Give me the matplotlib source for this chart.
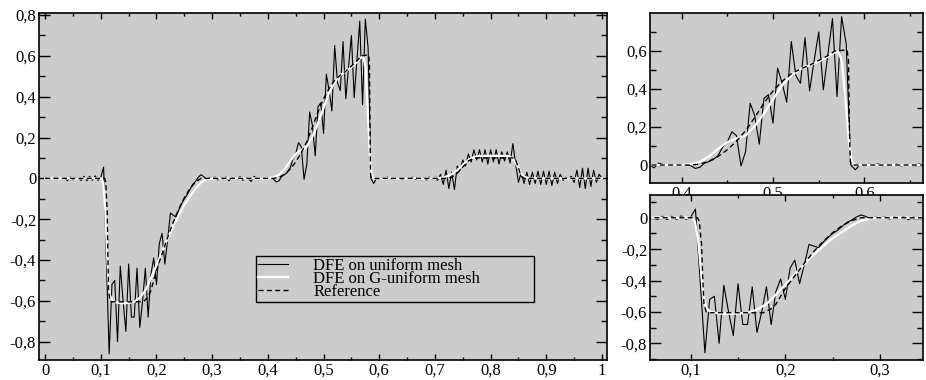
import numpy as np
import matplotlib.pyplot as plt
from matplotlib.ticker import MultipleLocator, FuncFormatter

plt.rcParams['font.family'] = ['Liberation Serif', 'DejaVu Serif']
plt.rcParams['font.size'] = 12

# DFE solution on the uniform mesh (h = 0.005)
x_uniform = np.linspace(0.0, 1.0, 201)
y_uniform = [
    0.0, 0.002, -0.002, 0.003, 0.0, 0.002, -0.002, 0.004, -0.012, 0.006,
    -0.006, 0.005, 0.0, -0.01, 0.01, -0.012, 0.01, -0.01, 0.012, -0.01,
    0.005, 0.055, -0.40, -0.86, -0.52, -0.50, -0.80, -0.43, -0.60, -0.75,
    -0.42, -0.68, -0.68, -0.44, -0.73, -0.60, -0.44, -0.68, -0.47, -0.39,
    -0.52, -0.32, -0.27, -0.42, -0.30, -0.17, -0.18, -0.19, -0.155, -0.125,
    -0.10, -0.08, -0.055, -0.03, -0.015, 0.005, 0.018, 0.008, -0.006, 0.003,
    0.0, 0.006, -0.008, 0.005, -0.003, 0.006, -0.012, 0.004, 0.002, -0.004,
    0.008, -0.01, 0.004, 0.0, -0.015, 0.01, 0.002, 0.0, 0.002, 0.0,
    0.002, 0.0, -0.003, -0.018, -0.012, 0.01, 0.018, 0.03, 0.05, 0.095,
    0.12, 0.175, 0.155, -0.005, 0.07, 0.325, 0.26, 0.11, 0.35, 0.37,
    0.22, 0.51, 0.43, 0.33, 0.65, 0.47, 0.43, 0.67, 0.39, 0.55,
    0.70, 0.395, 0.58, 0.77, 0.36, 0.78, 0.64, 0.0, -0.025, 0.0,
    -0.003, 0.004, 0.0, 0.006, -0.004, 0.002, 0.0, 0.004, -0.005, 0.0,
    0.003, 0.0, 0.006, -0.006, 0.004, 0.0, 0.005, -0.008, 0.006, -0.004,
    0.005, -0.01, 0.02, -0.03, 0.04, -0.05, 0.03, -0.055, 0.06, 0.04,
    0.09, 0.06, 0.12, 0.08, 0.14, 0.09, 0.14, 0.08, 0.14, 0.07,
    0.14, 0.08, 0.14, 0.07, 0.13, 0.085, 0.13, 0.075, 0.17, 0.07,
    -0.02, 0.03, -0.025, 0.03, -0.03, 0.03, -0.025, 0.035, -0.03, 0.035,
    -0.03, 0.035, -0.035, 0.03, -0.025, 0.02, -0.01, 0.005, 0.0, 0.01,
    -0.02, 0.04, -0.045, 0.05, -0.05, 0.05, -0.04, 0.04, -0.02, 0.02,
    0.0,
]

# DFE solution on the G-uniform mesh
x_guniform = [0.0, 0.1, 0.102, 0.1045, 0.108, 0.1106, 0.1133, 0.1162, 0.1204,
              0.13, 0.14, 0.15, 0.16, 0.17, 0.18, 0.19, 0.20, 0.21, 0.22,
              0.23, 0.24, 0.25, 0.26, 0.27, 0.28, 0.29, 0.30,
              0.40, 0.41, 0.42, 0.43, 0.44, 0.45, 0.46, 0.465, 0.47, 0.48,
              0.49, 0.50, 0.51, 0.52, 0.53, 0.54, 0.55, 0.56, 0.566, 0.5716,
              0.5753, 0.5789, 0.5825, 0.5862, 0.59,
              0.70, 0.71, 0.72, 0.73, 0.74, 0.75, 0.76, 0.77, 0.78,
              0.83, 0.835, 0.84, 0.845, 0.85, 0.855, 0.86, 0.87, 1.0]
y_guniform = [0.0, 0.0, -0.005, -0.025, -0.15, -0.32, -0.49, -0.57, -0.60,
              -0.61, -0.612, -0.61, -0.605, -0.585, -0.55, -0.49, -0.425, -0.36, -0.295,
              -0.235, -0.18, -0.13, -0.09, -0.05, -0.02, -0.004, 0.0,
              0.0, 0.005, 0.017, 0.045, 0.085, 0.12, 0.14, 0.145, 0.155, 0.205,
              0.27, 0.345, 0.42, 0.47, 0.505, 0.525, 0.545, 0.57, 0.59, 0.596,
              0.545, 0.36, 0.15, 0.018, 0.0,
              0.0, 0.002, 0.008, 0.02, 0.04, 0.065, 0.09, 0.105, 0.11,
              0.11, 0.105, 0.095, 0.075, 0.05, 0.025, 0.008, 0.0, 0.0]

# Reference solution
x_ref = [0.0, 0.107, 0.109, 0.1115, 0.1127, 0.114, 0.1165, 0.12, 0.1767,
         0.185, 0.19, 0.20, 0.21, 0.22, 0.23, 0.24, 0.25, 0.26, 0.27, 0.28,
         0.41, 0.42, 0.43, 0.44, 0.45, 0.46, 0.47, 0.48, 0.49, 0.50, 0.51,
         0.52, 0.53, 0.54, 0.55, 0.56, 0.5677, 0.581, 0.5825, 0.5835, 0.5845, 0.586,
         0.72, 0.73, 0.74, 0.75, 0.76, 0.77, 0.78, 0.84, 0.845, 0.85, 0.855, 0.86, 1.0]
y_ref = [0.0, 0.0, -0.02, -0.17, -0.38, -0.55, -0.60, -0.605, -0.605,
         -0.58, -0.55, -0.45, -0.37, -0.29, -0.215, -0.15, -0.095, -0.05, -0.018, 0.0,
         0.0, 0.005, 0.02, 0.045, 0.08, 0.125, 0.18, 0.25, 0.325, 0.39, 0.44,
         0.48, 0.505, 0.525, 0.55, 0.575, 0.60, 0.605, 0.55, 0.20, 0.02, 0.0,
         0.0, 0.005, 0.025, 0.055, 0.085, 0.10, 0.10, 0.10, 0.09, 0.05, 0.01, 0.0, 0.0]

labels = ['DFE on uniform mesh', 'DFE on G-uniform mesh', 'Reference']


def comma(v, pos):
    s = '%.1f' % v
    if s in ('0.0', '-0.0'):
        return '0'
    if s == '1.0':
        return '1'
    return s.replace('.', ',')


def draw(ax, xlim, ylim, xstep, ystep):
    ax.set_facecolor('#cccccc')
    l1, = ax.plot(x_uniform, y_uniform, color='black', lw=0.8)
    l2, = ax.plot(x_guniform, y_guniform, color='white', lw=1.6)
    l3, = ax.plot(x_ref, y_ref, color='black', lw=1.0, dashes=(3.6, 2.4))
    ax.set_xlim(*xlim)
    ax.set_ylim(*ylim)
    ax.xaxis.set_major_locator(MultipleLocator(xstep))
    ax.xaxis.set_minor_locator(MultipleLocator(xstep / 2))
    ax.yaxis.set_major_locator(MultipleLocator(ystep))
    ax.yaxis.set_minor_locator(MultipleLocator(ystep / 2))
    ax.xaxis.set_major_formatter(FuncFormatter(comma))
    ax.yaxis.set_major_formatter(FuncFormatter(comma))
    ax.tick_params(which='both', direction='in', top=True, right=True, width=1.0)
    ax.tick_params(axis='x', which='major', length=4.3, pad=2)
    ax.tick_params(axis='x', which='minor', length=2.4)
    ax.tick_params(axis='y', which='major', length=7.9, pad=2)
    ax.tick_params(axis='y', which='minor', length=4.0)
    for sp in ax.spines.values():
        sp.set_linewidth(1.2)
    return l1, l2, l3


fig = plt.figure(figsize=(9.26, 3.8), dpi=100)

ax_main = fig.add_axes([39 / 926, 20 / 380, 568 / 926, 347 / 380])
handles = draw(ax_main, (-0.011, 1.009), (-0.89, 0.81), 0.1, 0.2)
ax_main.legend(handles, labels, loc='center left',
               bbox_to_anchor=(0.382, 0.170, 0.489, 0.127), mode='expand',
               fancybox=False, edgecolor='black', facecolor='#cccccc',
               framealpha=1, fontsize=12, borderpad=0.15, labelspacing=-0.2,
               handlelength=1.8, handletextpad=1.5, borderaxespad=0)
ax_main.get_legend().get_frame().set_linewidth(1.0)

ax_top = fig.add_axes([650 / 926, 197.3 / 380, 273 / 926, 169.4 / 380])
draw(ax_top, (0.3655, 0.664), (-0.093, 0.798), 0.1, 0.2)

ax_bot = fig.add_axes([650 / 926, 20 / 380, 273 / 926, 165 / 380])
draw(ax_bot, (0.057, 0.3454), (-0.906, 0.145), 0.1, 0.2)

fig.savefig('out.png', dpi=100)
